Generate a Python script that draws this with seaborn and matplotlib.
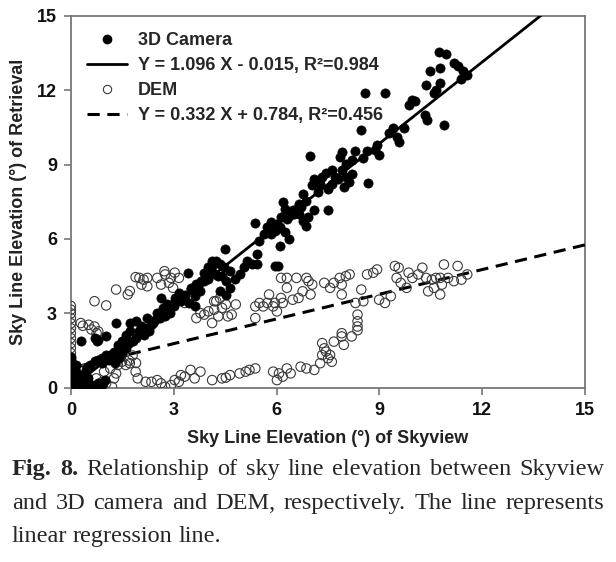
import numpy as np
import pandas as pd
import matplotlib
matplotlib.use("Agg")
import matplotlib.pyplot as plt
from matplotlib.lines import Line2D
import seaborn as sns

# 3D camera retrievals (x = skyview, y = retrieval)
cam_x = [0, 0, 0, 0, 0, 0, 0, 0, 0, 0.05, 0.1, 0.12, 0.2, 0.25, 0.3, 0.35, 0.4, 0.45, 0.5, 0.5,
         0.6, 0.7, 0.8, 0.9, 1.0, 0.15,
         0.46, 0.57, 0.69, 0.8, 0.92, 1.03, 1.15, 1.26, 1.37, 1.49, 1.6, 1.72, 1.72, 1.89, 2.06,
         2.12, 2.29, 2.23, 2.35, 2.46, 2.58, 2.75, 2.63, 2.69, 2.81, 2.98, 3.03, 3.15, 3.21, 3.32,
         3.44, 3.61, 3.41, 3.49, 3.61, 3.66, 3.78, 3.89, 3.89, 4.01, 4.1, 4.12, 4.12, 4.24, 4.29,
         4.35, 4.35, 4.47, 4.52, 4.52, 4.64, 4.64, 4.79, 4.92, 5.04, 5.15, 5.27, 5.44, 5.44, 5.5,
         5.64, 5.73, 5.84, 5.84, 5.95, 6.01, 6.12, 6.18, 6.24, 6.24, 6.36, 6.36, 6.47, 6.64, 6.64,
         6.76, 6.78, 6.87, 6.87, 6.93, 7.04, 7.1, 7.1, 7.27, 7.33, 7.44, 7.61, 7.61, 7.79, 7.85,
         7.9, 7.9, 7.96, 8.02, 8.02, 8.2, 8.3, 8.47, 8.53, 8.64, 8.87, 8.93, 8.99, 9.28, 9.39,
         9.5, 9.56, 9.73, 9.85, 9.96, 10.05, 10.33, 10.4, 10.36, 10.48, 10.59, 10.65, 10.74, 10.77,
         10.77, 10.94, 11.17, 11.28, 11.39, 11.45, 11.56,
         8.59, 9.16, 8.68, 10.88, 6.98, 7.5, 4.5, 5.38, 6.09, 5.95, 6.05, 1.32, 0.29, 0.69, 0.8,
         1.03, 0.75,
         0.9, 1.1, 1.2, 1.3, 1.4, 1.5, 1.6, 1.7, 1.8, 1.9, 2.0, 2.2, 2.4, 2.5, 2.6, 2.7, 2.9, 3.0,
         3.1, 3.3, 3.5, 3.7, 3.8, 4.0, 4.2, 4.4, 8.1, 8.2, 7.7, 7.5, 7.2, 5.9, 6.0, 6.1, 6.3, 6.5,
         6.6, 6.7]
cam_y = [0.05, 0.2, 0.35, 0.5, 0.65, 0.8, 0.95, 1.1, 1.25, 0.15, 0.4, 0.7, 0.55, 0.15, 0.3, 0.5,
         0.1, 0.7, 0.05, 0.4, 0.1, 0.05, 0.2, 0.1, 0.3, 0.9,
         0.85, 0.92, 1.06, 1.12, 1.19, 1.33, 1.33, 1.46, 1.73, 1.87, 2.14, 2.27, 2.61, 2.68, 2.48,
         2.14, 2.27, 2.82, 2.55, 2.75, 2.95, 2.88, 3.63, 3.22, 3.36, 3.36, 3.63, 3.83, 3.49, 3.76,
         3.42, 3.29, 4.64, 4.03, 3.7, 4.17, 3.9, 4.3, 4.64, 4.85, 4.71, 4.91, 5.12, 5.12, 4.51,
         4.98, 3.9, 4.85, 4.3, 3.76, 4.03, 4.71, 4.37, 4.58, 4.85, 5.12, 4.98, 4.98, 5.39, 5.93,
         6.2, 6.47, 6.2, 6.67, 6.34, 6.61, 6.88, 7.49, 7.22, 6.27, 6.0, 6.94, 7.15, 7.01, 7.39,
         6.74, 7.82, 7.55, 6.54, 6.88, 8.16, 8.43, 7.15, 8.23, 8.5, 8.64, 8.77, 8.23, 8.43, 9.31,
         9.52, 8.77, 8.1, 8.5, 9.04, 9.18, 9.53, 10.4, 9.25, 9.53, 9.58, 9.79, 9.38, 10.26, 10.46,
         10.13, 9.92, 10.46, 11.41, 11.61, 11.55, 11.0, 10.8, 12.22, 12.77, 11.89, 12.02, 13.54, 12.29,
         12.9, 13.47, 13.1, 12.97, 12.43, 12.77, 12.63,
         11.9, 11.89, 8.26, 10.6, 9.34, 7.15, 5.59, 6.63, 5.73, 4.91, 4.91, 2.61, 1.87, 2.0, 1.94,
         2.07, 1.9,
         1.0, 1.1, 1.2, 1.0, 1.2, 1.4, 1.6, 1.8, 1.9, 2.0, 2.3, 2.4, 2.6, 3.0, 2.8, 3.1, 3.0, 3.3,
         3.5, 3.6, 4.0, 4.1, 4.3, 4.4, 4.6, 4.5, 8.3, 8.6, 8.5, 8.0, 7.9, 6.5, 6.4, 6.5, 6.8, 7.0,
         7.2, 7.3]

# DEM retrievals
dem_x = [0, 0, 0, 0, 0, 0, 0, 0, 0, 0, 0, 0, 0, 0, 0,
         0.29, 0.52, 0.69, 0.8, 0.35, 0.6, 0.75,
         0.69, 1.03, 1.32, 1.66, 1.72,
         1.89, 2.0, 2.12, 2.23, 2.06, 2.23, 2.52, 2.73, 2.75, 2.92, 3.03, 3.15, 2.63, 2.86, 2.98,
         3.32, 3.49, 3.66, 3.78, 3.89, 4.01, 4.12, 4.18, 4.24, 4.35, 4.41, 4.52, 4.58, 4.69, 4.81,
         4.3, 4.18,
         5.38, 5.38, 5.5, 5.61, 5.73, 5.78, 5.9, 6.01, 6.13, 6.18, 6.13, 6.3, 6.3, 6.47, 6.58,
         6.64, 6.76, 6.87, 6.93, 6.99, 7.04, 5.95,
         7.39, 7.56, 7.67, 7.84, 7.9, 8.02, 8.13, 7.9, 8.3, 8.53, 8.47, 8.64, 8.82, 8.93, 8.99,
         9.16, 9.33, 9.45, 9.56, 9.5, 9.62, 9.79, 9.85, 9.96, 10.13, 10.25, 10.36, 10.42, 10.59,
         10.65, 10.77, 10.82, 10.88, 11.0, 11.17, 11.28, 11.39, 11.56, 10.77, 10.53,
         0.4, 0.74, 0.97, 1.15, 1.26, 1.37, 1.49, 1.6, 1.72, 1.03, 1.2, 0.8, 0.57, 0.92, 1.32,
         1.7, 1.8, 1.9,
         1.89, 1.95, 2.18, 2.35, 2.52, 2.63, 2.75, 2.92, 3.03, 3.15, 3.21, 3.32, 3.49, 3.61, 3.78,
         4.12, 4.41, 4.52, 4.64, 4.92, 5.1, 5.21, 5.38,
         5.9, 6.01, 6.07, 6.18, 6.3, 6.41, 6.7, 6.87, 7.1, 7.27, 7.33, 7.39, 7.33, 7.44, 7.56,
         7.61, 7.5, 7.67, 7.9, 7.96, 8.19, 8.36, 8.36, 8.36, 8.36, 7.9]
dem_y = [0.2, 0.5, 0.8, 1.1, 1.4, 1.6, 1.8, 2.0, 2.2, 2.4, 2.6, 2.8, 3.0, 3.15, 3.3,
         2.61, 2.54, 2.47, 2.27, 2.5, 2.35, 2.2,
         3.49, 3.32, 3.96, 3.76, 3.9,
         4.46, 4.43, 4.36, 4.43, 4.16, 4.09, 4.43, 4.7, 4.57, 4.43, 4.64, 4.43, 4.16, 4.23, 4.03,
         3.42, 3.62, 2.81, 3.01, 2.95, 3.08, 2.61, 3.15, 3.49, 3.62, 3.22, 3.36, 2.88, 2.95, 3.36,
         2.88, 3.49,
         2.81, 3.28, 3.42, 3.28, 3.42, 3.76, 3.28, 3.08, 3.62, 3.42, 4.43, 4.43, 4.03, 3.55, 4.43,
         3.62, 3.89, 4.43, 4.3, 3.76, 4.16, 3.42,
         4.23, 4.03, 4.23, 4.43, 4.16, 4.5, 4.57, 3.76, 3.42, 3.49, 3.96, 4.57, 4.64, 4.77, 3.55,
         3.42, 3.69, 4.91, 4.84, 4.43, 4.23, 4.03, 4.64, 4.43, 4.57, 4.84, 4.43, 3.89, 4.03,
         4.43, 3.76, 4.16, 4.97, 4.43, 4.3, 4.91, 4.36, 4.57, 4.43, 4.36,
         0.78, 0.38, 0.65, 0.78, 0.38, 0.92, 1.05, 0.92, 0.99, 0.18, 0.04, 0.11, 0.11, 0.24, 0.58,
         1.1, 1.3, 1.0,
         0.65, 0.38, 0.24, 0.24, 0.31, 0.18, 0.04, 0.11, 0.31, 0.24, 0.51, 0.45, 0.72, 0.38, 0.65,
         0.31, 0.38, 0.41, 0.51, 0.58, 0.65, 0.72, 0.78,
         0.65, 0.31, 0.58, 0.45, 0.78, 0.58, 0.85, 0.78, 0.72, 0.99, 1.8, 1.59, 1.32, 1.46, 1.32,
         1.05, 1.19, 1.86, 2.2, 1.73, 2.07, 2.47, 2.68, 2.95, 2.32, 2.07]

# regression coefficients (slope, intercept) as printed in the legend
cam_fit = (1.096, -0.015)
dem_fit = (0.332, 0.784)
cam_label = "Y = 1.096 X - 0.015, R²=0.984"
dem_label = "Y = 0.332 X + 0.784, R²=0.456"

sns.set_style("white")
plt.rcParams['font.family'] = ['Liberation Sans', 'DejaVu Sans']

fig = plt.figure(figsize=(6.16, 5.62), dpi=100)
ax = fig.add_axes([0.115, 0.31, 0.835, 0.662])

xs = np.linspace(0, 15, 50)
fits = pd.DataFrame({
    "x": np.concatenate([xs, xs]),
    "y": np.concatenate([cam_fit[0] * xs + cam_fit[1], dem_fit[0] * xs + dem_fit[1]]),
    "fit": ["cam"] * len(xs) + ["dem"] * len(xs),
})
dashes = (0, (4, 2.5))
sns.lineplot(data=fits[fits.fit == "cam"], x="x", y="y", color="black", lw=2, ax=ax, zorder=3)
sns.lineplot(data=fits[fits.fit == "dem"], x="x", y="y", color="black", lw=2.2,
             linestyle=dashes, ax=ax, zorder=3)

sns.scatterplot(x=dem_x, y=dem_y, marker="o", s=46, facecolor="none", edgecolor="#3a3a3a",
                linewidth=0.8, ax=ax, zorder=4)
sns.scatterplot(x=cam_x, y=cam_y, marker="o", s=44, color="black", edgecolor="black",
                linewidth=0.5, ax=ax, zorder=5)

ax.set_xlim(0, 15)
ax.set_ylim(0, 15)
ax.set_xticks([0, 3, 6, 9, 12, 15])
ax.set_yticks([0, 3, 6, 9, 12, 15])
for s in ax.spines.values():
    s.set_color("#777777")
    s.set_linewidth(1.3)
ax.tick_params(direction="out", length=5, width=1.2, color="#777777", labelsize=13,
               labelcolor="#111111", bottom=True, left=True, pad=5)
for lab in ax.get_xticklabels() + ax.get_yticklabels():
    lab.set_fontweight("bold")
ax.set_xlabel("Sky Line Elevation (°) of Skyview", fontsize=13, fontweight="bold",
              color="#222222", labelpad=8)
ax.set_ylabel("Sky Line Elevation (°) of Retrieval", fontsize=13, fontweight="bold",
              color="#222222", labelpad=7)

handles = [
    Line2D([], [], ls="none", marker="o", ms=6, color="black"),
    Line2D([], [], color="black", lw=2),
    Line2D([], [], ls="none", marker="o", ms=6, mfc="none", mec="#3a3a3a", mew=0.8),
    Line2D([], [], color="black", lw=2.2, linestyle=dashes),
]
ax.legend(handles, ["3D Camera", cam_label, "DEM", dem_label], loc="upper left",
          frameon=False, prop={"weight": "bold", "size": 13}, handlelength=2.2,
          labelspacing=0.45, borderaxespad=0.5, handletextpad=0.6)

# caption, justified like the journal text
cap_lines = [
    [("Fig. 8.", "bold"), ("Relationship of sky line elevation between Skyview", "normal")],
    [("and 3D camera and DEM, respectively. The line represents", "normal")],
    [("linear regression line.", "normal")],
]
cap_y = [0.155, 0.094, 0.036]
x_left, x_right = 12 / 616, 604 / 616
fig.canvas.draw()
renderer = fig.canvas.get_renderer()
for i, (parts, yy) in enumerate(zip(cap_lines, cap_y)):
    words = []
    for txt, wt in parts:
        words += [(w, wt) for w in txt.split()]
    arts = [fig.text(0, yy, w, fontsize=17.5, fontweight=wt, family="Liberation Serif",
                     va="baseline", ha="left") for w, wt in words]
    widths = [a.get_window_extent(renderer).width / fig.bbox.width for a in arts]
    justify = i < len(cap_lines) - 1
    gap = (x_right - x_left - sum(widths)) / (len(arts) - 1) if justify else 0.009
    xpos = x_left
    for a, w in zip(arts, widths):
        a.set_x(xpos)
        xpos += w + gap

fig.savefig("out.png", dpi=100)
